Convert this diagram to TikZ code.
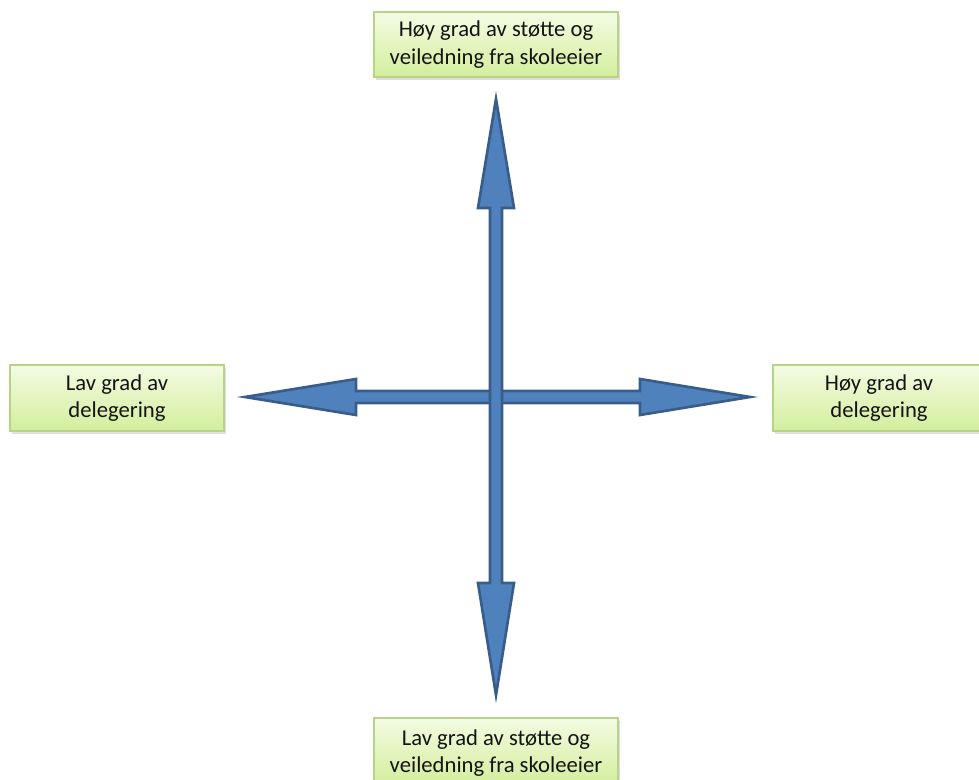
\documentclass[tikz,border=0pt]{standalone}
\usepackage{fontspec}
\setmainfont{Carlito}
\usetikzlibrary{shadows}
\definecolor{arrowfill}{HTML}{4F81BD}
\definecolor{arrowline}{HTML}{385D8A}
\definecolor{boxtop}{HTML}{F4FBE3}
\definecolor{boxbottom}{HTML}{D3EE9C}
\definecolor{boxline}{HTML}{B5D487}
\definecolor{labeltext}{HTML}{141414}
\tikzset{
  labelbox/.style={draw=boxline, line width=0.8pt, top color=boxtop, bottom color=boxbottom,
    drop shadow={shadow xshift=1.5pt, shadow yshift=-2pt, opacity=0.25},
    align=center, text=labeltext, font=\fontsize{17}{20.5}\selectfont,
    inner sep=0pt},
  bigarrow/.style={fill=arrowfill, draw=arrowline, line width=2pt, line join=miter}
}
\begin{document}
\begin{tikzpicture}[x=0.75pt,y=-0.75pt]
\useasboundingbox (0,0) rectangle (979,780);
% centre of the cross
\coordinate (c) at (496,397);
% horizontal double arrow
\draw[bigarrow] (245,397) -- (356,379) -- (356,391) -- (640,391) -- (640,379)
  -- (750,397) -- (640,415) -- (640,403) -- (356,403) -- (356,415) -- cycle;
% vertical double arrow
\draw[bigarrow] (496,99) -- (514,208) -- (502,208) -- (502,583) -- (514,583)
  -- (496,695) -- (478,583) -- (490,583) -- (490,208) -- (478,208) -- cycle;
% label boxes
\node[labelbox, minimum width=244*0.75pt, minimum height=65*0.75pt] (top) at (496,44.5)
  {Høy grad av støtte og\\veiledning fra skoleeier};
\node[labelbox, minimum width=214*0.75pt, minimum height=66*0.75pt] (left) at (117,398)
  {Lav grad av\\delegering};
\node[labelbox, minimum width=212*0.75pt, minimum height=66*0.75pt] (right) at (879,398)
  {Høy grad av\\delegering};
\node[labelbox, minimum width=244*0.75pt, minimum height=66*0.75pt, text depth=0pt] (bottom) at (496,751)
  {Lav grad av støtte og\\veiledning fra skoleeier};
\end{tikzpicture}
\end{document}
